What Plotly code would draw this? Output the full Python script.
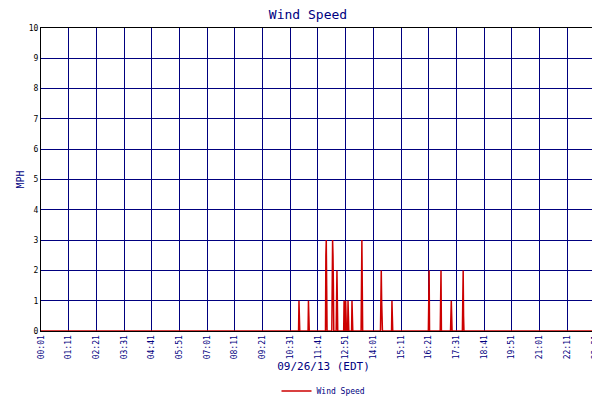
import plotly.graph_objects as go

# minutes since midnight and wind speed (mph)
minutes = [1, 652, 653, 654, 655, 676, 677, 678, 679, 720, 721, 722, 723, 724,
           736, 737, 738, 739, 740, 741, 747, 748, 749, 750, 751,
           766, 767, 768, 769, 771, 772, 773, 776, 777, 778, 779, 786, 787, 788, 789,
           810, 811, 812, 813, 814, 859, 860, 861, 862, 863, 864, 887, 888, 889, 890,
           980, 981, 982, 983, 1010, 1011, 1012, 1013, 1036, 1037, 1038, 1039, 1040,
           1066, 1067, 1068, 1069, 1070, 1429]
speed = [0, 0, 1, 0.5, 0, 0, 1, 0.5, 0, 0, 2.5, 3, 1.5, 0,
         0, 1.5, 3, 2.5, 1.5, 0, 0, 2, 2, 1, 0,
         0, 1, 0.5, 0, 1, 0.5, 0, 0, 1, 0.5, 0, 0, 1, 0.5, 0,
         0, 2, 3, 1.5, 0, 0, 1, 2, 1, 0.5, 0, 0, 1, 0.5, 0,
         0, 1, 2, 0, 0, 1, 2, 0, 0, 0.5, 1, 0.5, 0,
         0, 1, 2, 0.5, 0, 0]

tick_vals = list(range(1, 1402, 70)) + [1429]
tick_text = ["%02d:%02d" % (m // 60, m % 60) for m in tick_vals]

navy = "#00007f"
fnt = "DejaVu Sans Mono"

fig = go.Figure()
fig.add_trace(go.Scatter(x=minutes, y=speed, mode="lines", name="Wind Speed",
                         line=dict(color="#cc0000", width=1.5)))
fig.update_layout(
    width=600, height=400, plot_bgcolor="white", paper_bgcolor="white",
    margin=dict(l=33, r=2, t=20, b=63),
    title=dict(text="Wind Speed", x=0.5, y=0.995, xanchor="center", yanchor="top",
               font=dict(family=fnt, size=13, color=navy)),
    showlegend=True,
    legend=dict(orientation="h", x=0.5, xanchor="center", y=-0.15, yanchor="top",
                font=dict(family=fnt, size=8, color=navy)),
    font=dict(family=fnt, size=8),
)
fig.update_xaxes(range=[1, 1429], tickvals=tick_vals, ticktext=tick_text, tickangle=-90,
                 tickfont=dict(family=fnt, size=8, color=navy), automargin=False,
                 showgrid=True, gridcolor=navy, gridwidth=1,
                 showline=True, linecolor="black", mirror=True, ticks="",
                 title=dict(text="09/26/13 (EDT)", font=dict(family=fnt, size=11, color=navy),
                            standoff=4))
fig.update_yaxes(range=[0, 10], dtick=1, tickfont=dict(family=fnt, size=8, color="black"),
                 automargin=False,
                 showgrid=True, gridcolor=navy, gridwidth=1, zeroline=False,
                 showline=True, linecolor="black", mirror=True,
                 title=dict(text="MPH", font=dict(family=fnt, size=10, color=navy), standoff=2))
fig.write_html("out.html")
